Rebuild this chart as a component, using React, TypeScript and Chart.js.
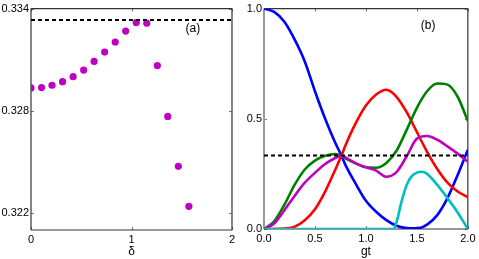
import React, { useEffect, useRef } from 'react';
import { Chart, registerables } from 'chart.js';
Chart.register(...registerables);

// ---- Panel (a) data ----
const DELTA = [0, 0.105, 0.209, 0.314, 0.419, 0.524, 0.628, 0.733, 0.838, 0.942, 1.047, 1.152, 1.257, 1.361, 1.466, 1.571];
const FIDELITY = [0.32934, 0.32936, 0.3295, 0.32971, 0.33, 0.33039, 0.3309, 0.33145, 0.33204, 0.33268, 0.33318, 0.33314, 0.33066, 0.32767, 0.32474, 0.32239];
const LEVEL_A = 0.33333;
const A_X_TICKS = [0, 1, 2];
const A_Y_TICKS = [0.322, 0.328, 0.334];

// ---- Panel (b) data ----
const T = [0, 0.1, 0.2, 0.3, 0.4, 0.5, 0.6, 0.7, 0.76, 0.8, 0.9, 1.0, 1.1, 1.2, 1.3, 1.4, 1.5, 1.6, 1.7, 1.8, 1.9, 2.0];
const P_BLUE = [1.0, 0.985, 0.94, 0.86, 0.76, 0.625, 0.5, 0.39, 0.333, 0.29, 0.205, 0.128, 0.078, 0.04, 0.015, 0.004, 0.003, 0.02, 0.063, 0.14, 0.245, 0.36];
const P_RED = [0, 0, 0.002, 0.01, 0.04, 0.09, 0.17, 0.27, 0.333, 0.38, 0.48, 0.56, 0.61, 0.632, 0.6, 0.53, 0.44, 0.35, 0.272, 0.21, 0.17, 0.145];
const P_GREEN = [0, 0.035, 0.11, 0.2, 0.27, 0.31, 0.332, 0.34, 0.333, 0.32, 0.298, 0.28, 0.278, 0.3, 0.355, 0.45, 0.55, 0.625, 0.66, 0.655, 0.6, 0.49];
const P_MAGENTA = [0, 0.025, 0.085, 0.15, 0.21, 0.255, 0.295, 0.322, 0.333, 0.325, 0.298, 0.28, 0.265, 0.237, 0.258, 0.33, 0.41, 0.422, 0.405, 0.375, 0.342, 0.305];
const T_CYAN = [0, 1.27, 1.3, 1.35, 1.4, 1.45, 1.5, 1.55, 1.6, 1.7, 1.8, 1.9, 2.0];
const P_CYAN = [0, 0, 0.03, 0.125, 0.2, 0.24, 0.256, 0.26, 0.25, 0.2, 0.14, 0.075, 0];
const LEVEL_B = 0.33333;
const B_X_TICKS = [0, 0.5, 1, 1.5, 2];
const B_Y_TICKS = [0, 0.5, 1];

const FONT = 'Liberation Sans, Arial, Helvetica, sans-serif';

const framePlugin = {
  id: 'frame',
  beforeDatasetsDraw(chart: any, _args: any, opts: any) {
    const { ctx, chartArea } = chart;
    const { left, right, top, bottom } = chartArea;
    const x = chart.scales.x;
    const y = chart.scales.y;
    ctx.save();
    ctx.strokeStyle = '#777';
    ctx.lineWidth = 1;
    const seg = (x1: number, y1: number, x2: number, y2: number) => {
      ctx.beginPath();
      ctx.moveTo(x1, y1);
      ctx.lineTo(x2, y2);
      ctx.stroke();
    };
    for (const v of opts.xTicks) {
      const px = Math.round(x.getPixelForValue(v)) + 0.5;
      seg(px, bottom, px, bottom - 3);
      seg(px, top, px, top + 3);
    }
    for (const v of opts.yTicks) {
      const py = Math.round(y.getPixelForValue(v)) + 0.5;
      seg(left, py, left + 3, py);
      seg(right, py, right - 3, py);
    }
    ctx.strokeStyle = '#333';
    ctx.lineWidth = 1.2;
    seg(left, top, right, top);
    seg(right, top, right, bottom);
    seg(left, bottom, right, bottom);
    ctx.strokeStyle = opts.leftColor;
    ctx.lineWidth = opts.leftWidth;
    seg(left, top, left, bottom);
    ctx.fillStyle = '#000';
    ctx.font = '12px ' + FONT;
    ctx.textAlign = 'center';
    ctx.textBaseline = 'middle';
    ctx.fillText(opts.label, x.getPixelForValue(opts.labelX), y.getPixelForValue(opts.labelY));
    ctx.restore();
  },
};

function makeScales(xMin: number, xMax: number, yMin: number, yMax: number, xTicks: number[], yTicks: number[], xFmt: (v: number) => string, yFmt: (v: number) => string, title: string, yWidth: number, xHeight: number) {
  return {
    x: {
      type: 'linear',
      min: xMin,
      max: xMax,
      grid: { display: false, drawTicks: false, tickLength: 0 },
      border: { display: false },
      afterBuildTicks: (s: any) => { s.ticks = xTicks.map((v) => ({ value: v })); },
      afterFit: (s: any) => { s.height = xHeight; },
      ticks: { color: '#000', padding: 3.5, maxRotation: 0, autoSkip: false, font: { size: 11, family: FONT }, callback: (v: any) => xFmt(Number(v)) },
      title: { display: true, text: title, color: '#000', font: { size: 12, family: FONT }, padding: { top: 0, bottom: 0 } },
    },
    y: {
      type: 'linear',
      min: yMin,
      max: yMax,
      grid: { display: false, drawTicks: false, tickLength: 0 },
      border: { display: false },
      afterBuildTicks: (s: any) => { s.ticks = yTicks.map((v) => ({ value: v })); },
      afterFit: (s: any) => { s.width = yWidth; },
      ticks: { color: '#000', padding: 2, autoSkip: false, font: { size: 11, family: FONT }, callback: (v: any) => yFmt(Number(v)) },
    },
  };
}

export default function App() {
  const refA = useRef<HTMLCanvasElement>(null);
  const refB = useRef<HTMLCanvasElement>(null);

  useEffect(() => {
    const chartA = new Chart(refA.current!, {
      type: 'scatter',
      data: {
        datasets: [
          {
            data: [{ x: 0, y: LEVEL_A }, { x: 2, y: LEVEL_A }],
            showLine: true,
            borderColor: '#000',
            borderWidth: 2,
            borderDash: [4, 3],
            pointRadius: 0,
          },
          {
            data: DELTA.map((d, i) => ({ x: d, y: FIDELITY[i] })),
            showLine: false,
            pointRadius: 3.6,
            pointBackgroundColor: '#c000c0',
            pointBorderColor: '#c000c0',
            pointBorderWidth: 0,
          },
        ],
      } as any,
      options: {
        responsive: false,
        animation: false,
        devicePixelRatio: 1,
        layout: { padding: { top: 7, right: 8, left: 0, bottom: 0 } },
        plugins: {
          legend: { display: false },
          tooltip: { enabled: false },
          frame: { xTicks: A_X_TICKS, yTicks: A_Y_TICKS, leftColor: '#333', leftWidth: 1.2, label: '(a)', labelX: 1.61, labelY: 0.33283 },
        } as any,
        scales: makeScales(0, 2, 0.321, 0.334, A_X_TICKS, A_Y_TICKS, (v) => String(v), (v) => v.toFixed(3), 'δ', 31, 29) as any,
      },
      plugins: [framePlugin],
    });

    const line = (xs: number[], ys: number[], color: string) => ({
      data: xs.map((t, i) => ({ x: t, y: ys[i] })),
      showLine: true,
      borderColor: color,
      borderWidth: 2.6,
      pointRadius: 0,
      cubicInterpolationMode: 'monotone',
    });

    const chartB = new Chart(refB.current!, {
      type: 'scatter',
      data: {
        datasets: [
          {
            data: [{ x: 0, y: LEVEL_B }, { x: 2, y: LEVEL_B }],
            showLine: true,
            borderColor: '#000',
            borderWidth: 2,
            borderDash: [4, 3],
            pointRadius: 0,
          },
          line(T_CYAN, P_CYAN, '#00bfbf'),
          line(T, P_MAGENTA, '#bf00bf'),
          line(T, P_GREEN, '#008000'),
          line(T, P_RED, '#ff0000'),
          line(T, P_BLUE, '#0000ff'),
        ],
      } as any,
      options: {
        responsive: false,
        animation: false,
        devicePixelRatio: 1,
        layout: { padding: { top: 7.5, right: 10, left: 0, bottom: 0 } },
        plugins: {
          legend: { display: false },
          tooltip: { enabled: false },
          frame: { xTicks: B_X_TICKS, yTicks: B_Y_TICKS, leftColor: '#999', leftWidth: 2, label: '(b)', labelX: 1.61, labelY: 0.923 },
        } as any,
        scales: makeScales(0, 2, 0, 1, B_X_TICKS, B_Y_TICKS, (v) => v.toFixed(1), (v) => v.toFixed(1), 'gt', 24, 30) as any,
      },
      plugins: [framePlugin],
    });

    return () => {
      chartA.destroy();
      chartB.destroy();
    };
  }, []);

  return (
    <div style={{ position: 'absolute', left: 0, top: 0, width: 479, height: 259, background: '#fff', overflow: 'hidden' }}>
      <canvas ref={refA} width={240} height={259} style={{ position: 'absolute', left: 0, top: 0, width: 240, height: 259 }} />
      <canvas ref={refB} width={239} height={259} style={{ position: 'absolute', left: 240, top: 0, width: 239, height: 259 }} />
    </div>
  );
}
